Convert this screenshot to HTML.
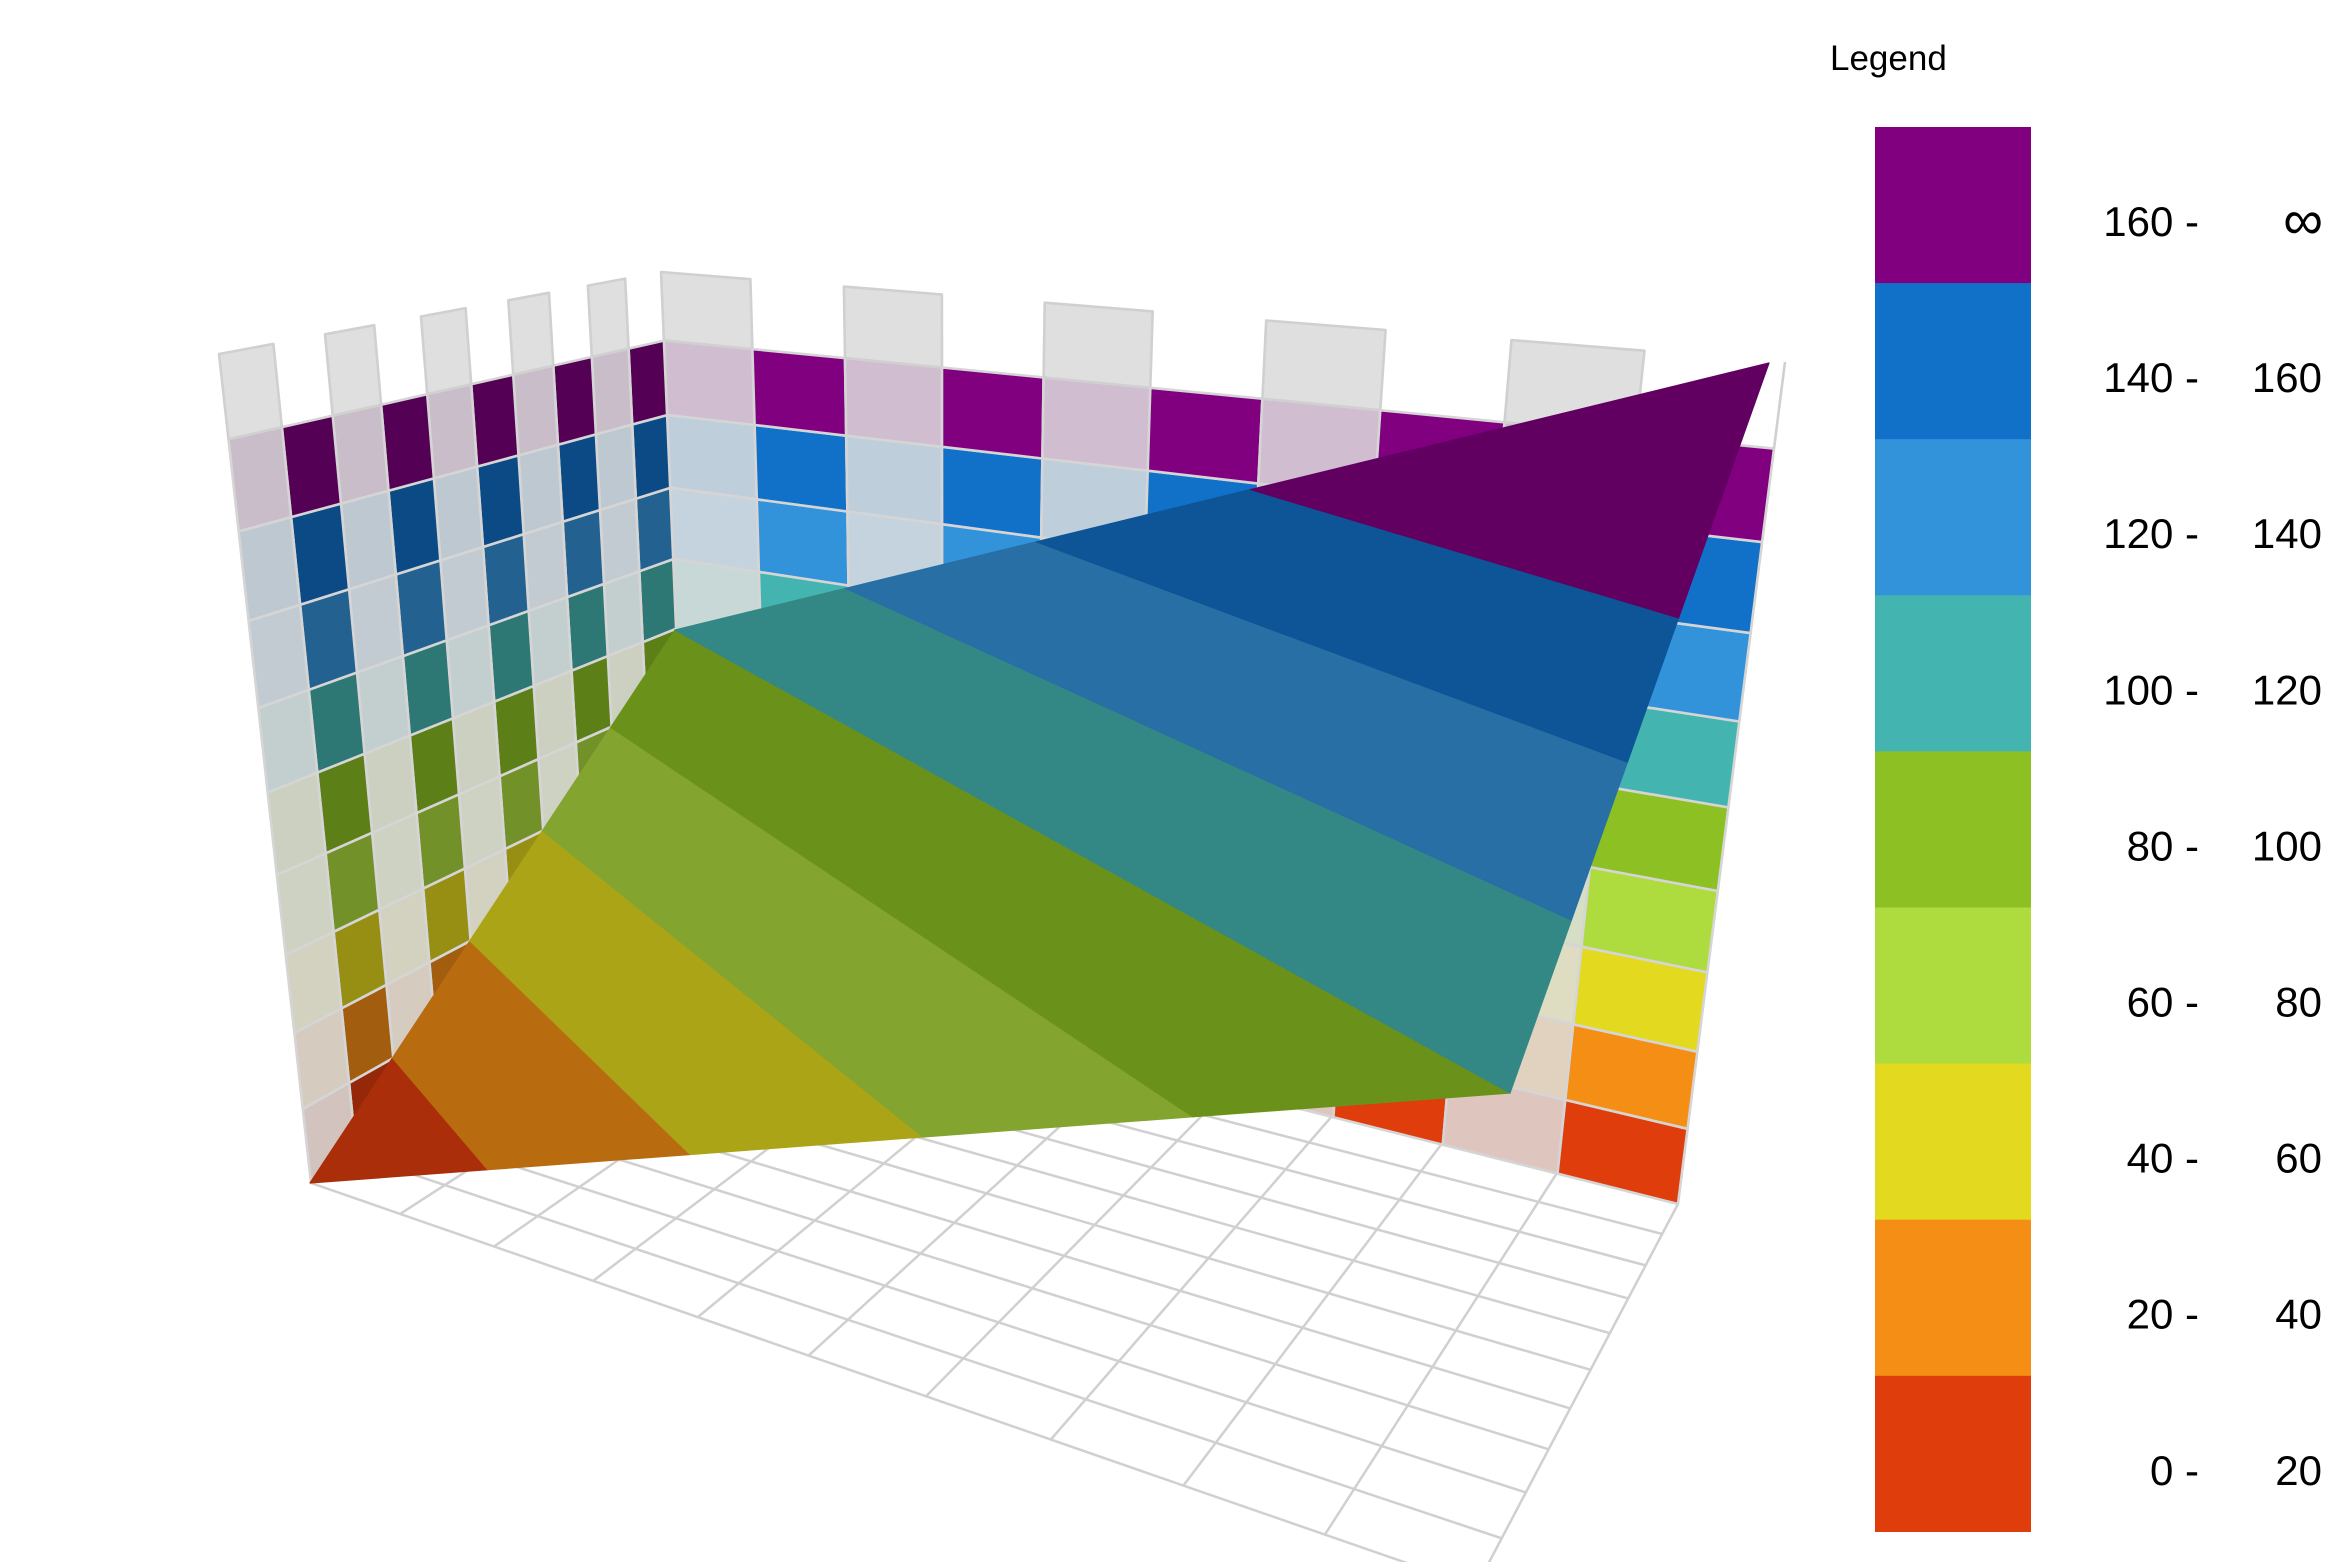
<!DOCTYPE html>
<html><head><meta charset="utf-8">
<style>
html,body{margin:0;padding:0;background:#fff;}
body{width:2343px;height:1562px;overflow:hidden;position:relative;font-family:"Liberation Sans",sans-serif;}
svg{position:absolute;left:0;top:0;}
</style></head>
<body>
<svg id="c" width="2343" height="1562" viewBox="0 0 2343 1562" xmlns="http://www.w3.org/2000/svg">
<rect x="0" y="0" width="2343" height="1562" fill="#ffffff"/>
<g id="floor"></g>
<g id="walls"></g>
<g id="surf"></g>
<g id="legend" font-family="Liberation Sans, sans-serif" fill="#000">
  <text x="1830" y="70" font-size="35">Legend</text>
  <rect x="1875" y="127" width="156" height="157" fill="#800080"/>
  <rect x="1875" y="283.1" width="156" height="157" fill="#1170c8"/>
  <rect x="1875" y="439.2" width="156" height="157" fill="#3393da"/>
  <rect x="1875" y="595.3" width="156" height="157" fill="#44b4b0"/>
  <rect x="1875" y="751.4" width="156" height="157" fill="#8dc123"/>
  <rect x="1875" y="907.5" width="156" height="157" fill="#aedb3e"/>
  <rect x="1875" y="1063.6" width="156" height="157" fill="#e3d91f"/>
  <rect x="1875" y="1219.7" width="156" height="157" fill="#f58e15"/>
  <rect x="1875" y="1375.8" width="156" height="156.2" fill="#e03d0c"/>
  <g font-size="42" text-anchor="end">
    <text x="2199" y="236">160 -</text><text x="2323" y="239" font-size="56">∞</text>
    <text x="2199" y="392.1">140 -</text><text x="2322" y="392.1">160</text>
    <text x="2199" y="548.2">120 -</text><text x="2322" y="548.2">140</text>
    <text x="2199" y="704.3">100 -</text><text x="2322" y="704.3">120</text>
    <text x="2199" y="860.4">80 -</text><text x="2322" y="860.4">100</text>
    <text x="2199" y="1016.5">60 -</text><text x="2322" y="1016.5">80</text>
    <text x="2199" y="1172.6">40 -</text><text x="2322" y="1172.6">60</text>
    <text x="2199" y="1328.7">20 -</text><text x="2322" y="1328.7">40</text>
    <text x="2199" y="1484.8">0 -</text><text x="2322" y="1484.8">20</text>
  </g>
</g>
</svg>
<script>
(function(){
const NS='http://www.w3.org/2000/svg';
function el(parent,tag,attrs){const e=document.createElementNS(NS,tag);for(const k in attrs)e.setAttribute(k,attrs[k]);parent.appendChild(e);return e;}
function H(q){
  const x0=q[0][0],y0=q[0][1],x1=q[1][0],y1=q[1][1],x2=q[2][0],y2=q[2][1],x3=q[3][0],y3=q[3][1];
  const sx=x0-x1+x2-x3, sy=y0-y1+y2-y3;
  const dx1=x1-x2, dx2=x3-x2, dy1=y1-y2, dy2=y3-y2;
  const den=dx1*dy2-dx2*dy1;
  const g=(sx*dy2-dx2*sy)/den, h=(dx1*sy-sx*dy1)/den;
  const a=x1-x0+g*x1, b=x3-x0+h*x3, c=x0, d=y1-y0+g*y1, e=y3-y0+h*y3, f=y0;
  return function(u,v){const w=g*u+h*v+1;return [(a*u+b*v+c)/w,(d*u+e*v+f)/w];};
}
function hex2rgb(h){return [parseInt(h.slice(1,3),16),parseInt(h.slice(3,5),16),parseInt(h.slice(5,7),16)];}
function rgb(c){return 'rgb('+c.map(function(x){return Math.round(Math.max(0,Math.min(255,x)));}).join(',')+')';}
const LEG=['#e03d0c','#f58e15','#e3d91f','#aedb3e','#8dc123','#44b4b0','#3393da','#1170c8','#800080'].map(hex2rgb);
function sh(c,k){return c.map(function(x){return x*k;});}
function mix(c,b,a){return c.map(function(x){return x*a+b*(1-a);});}
function pp(M,pts){return pts.map(function(p){var q=M(p[0],p[1]);return q[0].toFixed(1)+','+q[1].toFixed(1);}).join(' ');}

const B0=[690,955], R0=[1678,1204], F0=[1476,1587], L0=[311,1183];
const Btop=[661,272], Rtop=[1785,362], Ltop=[219,354];
const SB=[675,630], SR=[1769,363], SF=[1510,1093], SL=[310,1183];
const ZT=198;

const FM=H([B0,R0,F0,L0]);
const BW=H([B0,R0,Rtop,Btop]);
const LW=H([B0,L0,Ltop,Btop]);
const SM=H([SB,SR,SF,SL]);

// floor grid
const gf=document.getElementById('floor');
for(let k=0;k<=10;k++){
  const t=k/10;
  let a=FM(t,0), b=FM(t,1);
  el(gf,'line',{x1:a[0],y1:a[1],x2:b[0],y2:b[1],stroke:'#d0d0d0','stroke-width':2.5});
  a=FM(0,t); b=FM(1,t);
  el(gf,'line',{x1:a[0],y1:a[1],x2:b[0],y2:b[1],stroke:'#d0d0d0','stroke-width':2.5});
}

// walls
const gw=document.getElementById('walls');
function wall(M,coloredFn,k){
  for(let i=0;i<10;i++){
    const u0=i/10,u1=(i+1)/10,col=coloredFn(i);
    for(let r=0;r<9;r++){
      const v0=r*20/ZT, v1=(r+1)*20/ZT;
      const base=sh(LEG[r],k);
      const c=col?base:mix(base,222,0.15);
      el(gw,'polygon',{points:pp(M,[[u0,v0],[u1,v0],[u1,v1],[u0,v1]]),fill:rgb(c),stroke:'#d5d5d5','stroke-width':2.6,'stroke-linejoin':'round'});
    }
    if(!col){
      el(gw,'polygon',{points:pp(M,[[u0,180/ZT],[u1,180/ZT],[u1,1],[u0,1]]),fill:'#dfdfdf',stroke:'#d0d0d0','stroke-width':2.6,'stroke-linejoin':'round'});
    }
  }
}
wall(BW,function(i){return i%2===1;},1.0);
wall(LW,function(i){return i%2===0;},0.66);
(function(){var a=BW(1,180/ZT),b=BW(1,1);el(gw,'line',{x1:a[0],y1:a[1],x2:b[0],y2:b[1],stroke:'#d0d0d0','stroke-width':2.6});})();

// surface bands
const gs=document.getElementById('surf');
function clip(poly,fn){
  const out=[];
  for(let i=0;i<poly.length;i++){
    const A=poly[i],B=poly[(i+1)%poly.length];
    const fa=fn(A),fb=fn(B);
    if(fa>=0) out.push(A);
    if((fa>=0)!==(fb>=0)){const t=fa/(fa-fb);out.push([A[0]+t*(B[0]-A[0]),A[1]+t*(B[1]-A[1])]);}
  }
  return out;
}
for(let k=0;k<9;k++){
  const lo=(k===0)?-1.01:0.2*k-1, hi=(k===8)?1.01:0.2*k-0.8;
  let p=[[0,0],[1,0],[1,1],[0,1]];
  p=clip(p,function(q){return (q[0]-q[1])-lo;});
  p=clip(p,function(q){return hi-(q[0]-q[1]);});
  if(p.length>2){
    const c=rgb(sh(LEG[k],0.755));
    el(gs,'polygon',{points:pp(SM,p),fill:c,stroke:c,'stroke-width':1.2,'stroke-linejoin':'round'});
  }
}
})();
</script>
</body></html>
